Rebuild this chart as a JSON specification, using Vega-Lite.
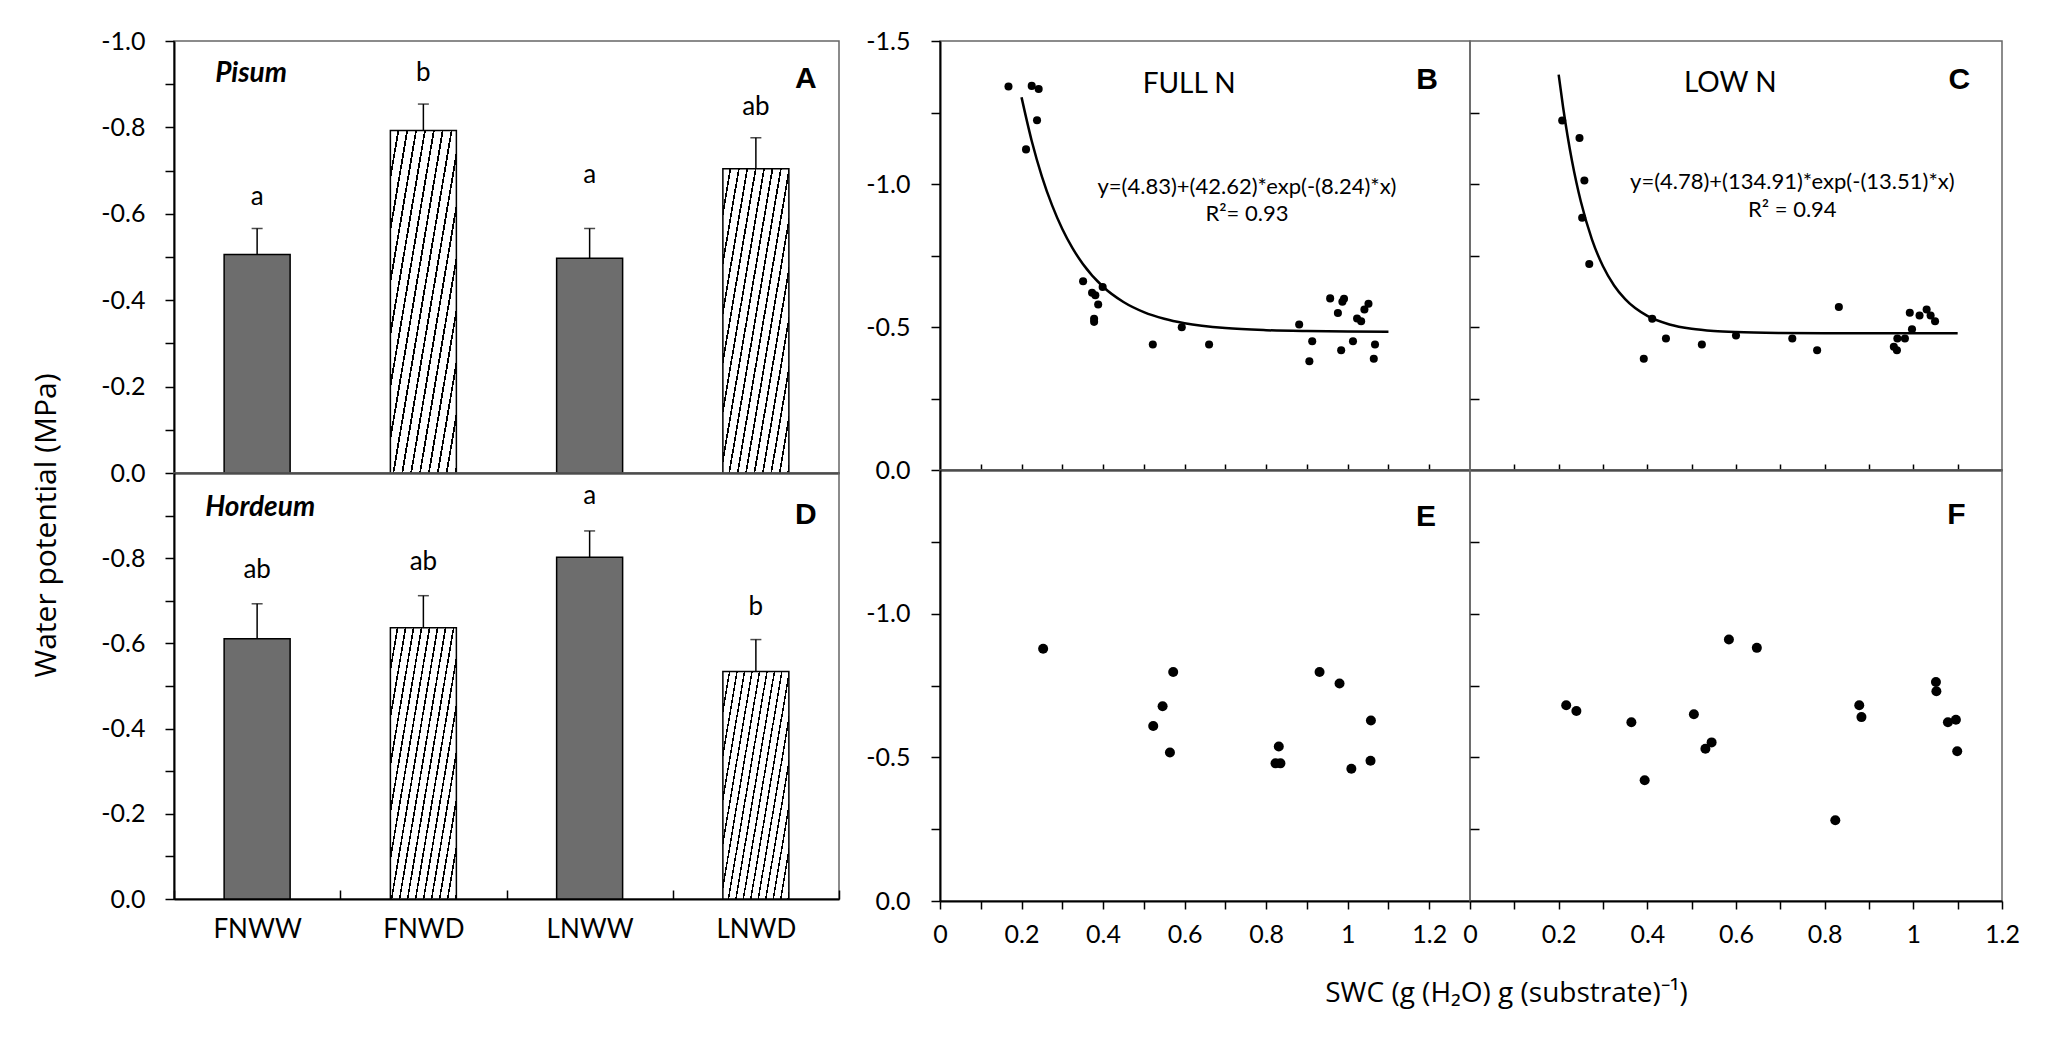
{
"$schema":"https://vega.github.io/schema/vega-lite/v6.json",
"padding":{"left":30,"top":28,"right":10,"bottom":10},
"background":"white",
"config":{
"view":{"stroke":"#666666","strokeWidth":1.5},
"axis":{"labelFont":"Lato","labelFontSize":25,"labelColor":"#000","titleFont":"Open Sans","titleFontSize":26,"titleFontWeight":"normal","titleColor":"#000","domainColor":"#000","tickColor":"#000","domainWidth":2,"tickWidth":1.5,"grid":false,"labelOverlap":false,"labelFlush":false,"labelBound":false}
},
"datasets":{
"pis":[
{"trt":"FNWW","h":0,"val":-0.506,"err":-0.566,"ly":-0.640,"lab":"a"},
{"trt":"FNWD","h":1,"val":-0.793,"err":-0.854,"ly":-0.925,"lab":"b"},
{"trt":"LNWW","h":0,"val":-0.497,"err":-0.566,"ly":-0.689,"lab":"a"},
{"trt":"LNWD","h":1,"val":-0.704,"err":-0.776,"ly":-0.848,"lab":"ab"}
],
"hor":[
{"trt":"FNWW","h":0,"val":-0.611,"err":-0.693,"ly":-0.772,"lab":"ab"},
{"trt":"FNWD","h":1,"val":-0.637,"err":-0.712,"ly":-0.791,"lab":"ab"},
{"trt":"LNWW","h":0,"val":-0.802,"err":-0.864,"ly":-0.945,"lab":"a"},
{"trt":"LNWD","h":1,"val":-0.534,"err":-0.609,"ly":-0.685,"lab":"b"}
],
"bann":[
{"p":"A","k":"N","trt":"FNWW","y":-0.923,"t":"Pisum"},
{"p":"A","k":"L","trt":"LNWD","y":-0.913,"t":"A"},
{"p":"D","k":"N","trt":"FNWW","y":-0.919,"t":"Hordeum"},
{"p":"D","k":"L","trt":"LNWD","y":-0.902,"t":"D"}
],
"scat":[
{"p":"B","x":0.168,"y":-1.341},{"p":"B","x":0.225,"y":-1.343},{"p":"B","x":0.242,"y":-1.332},{"p":"B","x":0.238,"y":-1.223},{"p":"B","x":0.211,"y":-1.121},
{"p":"B","x":0.351,"y":-0.660},{"p":"B","x":0.373,"y":-0.620},{"p":"B","x":0.381,"y":-0.611},{"p":"B","x":0.399,"y":-0.640},{"p":"B","x":0.388,"y":-0.579},
{"p":"B","x":0.378,"y":-0.529},{"p":"B","x":0.378,"y":-0.518},{"p":"B","x":0.522,"y":-0.439},{"p":"B","x":0.593,"y":-0.499},{"p":"B","x":0.660,"y":-0.439},
{"p":"B","x":0.881,"y":-0.509},{"p":"B","x":0.913,"y":-0.450},{"p":"B","x":0.906,"y":-0.380},{"p":"B","x":0.957,"y":-0.600},{"p":"B","x":0.976,"y":-0.549},
{"p":"B","x":0.991,"y":-0.599},{"p":"B","x":0.987,"y":-0.588},{"p":"B","x":0.984,"y":-0.419},{"p":"B","x":1.013,"y":-0.450},{"p":"B","x":1.023,"y":-0.530},
{"p":"B","x":1.033,"y":-0.520},{"p":"B","x":1.041,"y":-0.561},{"p":"B","x":1.051,"y":-0.581},{"p":"B","x":1.067,"y":-0.439},{"p":"B","x":1.064,"y":-0.389},
{"p":"C","x":0.208,"y":-1.222},{"p":"C","x":0.247,"y":-1.161},{"p":"C","x":0.258,"y":-1.012},{"p":"C","x":0.253,"y":-0.882},{"p":"C","x":0.269,"y":-0.720},
{"p":"C","x":0.392,"y":-0.389},{"p":"C","x":0.411,"y":-0.529},{"p":"C","x":0.442,"y":-0.460},{"p":"C","x":0.523,"y":-0.439},{"p":"C","x":0.600,"y":-0.470},
{"p":"C","x":0.727,"y":-0.460},{"p":"C","x":0.783,"y":-0.419},{"p":"C","x":0.832,"y":-0.570},{"p":"C","x":0.956,"y":-0.431},{"p":"C","x":0.963,"y":-0.419},
{"p":"C","x":0.964,"y":-0.460},{"p":"C","x":0.981,"y":-0.460},{"p":"C","x":0.997,"y":-0.492},{"p":"C","x":0.992,"y":-0.550},{"p":"C","x":1.014,"y":-0.540},
{"p":"C","x":1.030,"y":-0.561},{"p":"C","x":1.039,"y":-0.540},{"p":"C","x":1.049,"y":-0.520},
{"p":"E","x":0.253,"y":-0.878},{"p":"E","x":0.572,"y":-0.797},{"p":"E","x":0.546,"y":-0.678},{"p":"E","x":0.523,"y":-0.609},{"p":"E","x":0.564,"y":-0.517},
{"p":"E","x":0.831,"y":-0.538},{"p":"E","x":0.823,"y":-0.479},{"p":"E","x":0.835,"y":-0.479},{"p":"E","x":0.931,"y":-0.797},{"p":"E","x":0.980,"y":-0.757},
{"p":"E","x":1.057,"y":-0.628},{"p":"E","x":1.056,"y":-0.488},{"p":"E","x":1.009,"y":-0.460},
{"p":"F","x":0.217,"y":-0.681},{"p":"F","x":0.240,"y":-0.661},{"p":"F","x":0.364,"y":-0.622},{"p":"F","x":0.394,"y":-0.420},{"p":"F","x":0.505,"y":-0.650},
{"p":"F","x":0.531,"y":-0.530},{"p":"F","x":0.545,"y":-0.552},{"p":"F","x":0.584,"y":-0.910},{"p":"F","x":0.647,"y":-0.881},{"p":"F","x":0.824,"y":-0.281},
{"p":"F","x":0.878,"y":-0.681},{"p":"F","x":0.883,"y":-0.640},{"p":"F","x":1.051,"y":-0.762},{"p":"F","x":1.052,"y":-0.730},{"p":"F","x":1.078,"y":-0.622},
{"p":"F","x":1.096,"y":-0.631},{"p":"F","x":1.099,"y":-0.521}
],
"curve":[
{"p":"B","x":0.2,"y":-1.3031},{"p":"B","x":0.225,"y":-1.1505},{"p":"B","x":0.25,"y":-1.0262},{"p":"B","x":0.275,"y":-0.9251},{"p":"B","x":0.3,"y":-0.8428},
{"p":"B","x":0.325,"y":-0.7758},{"p":"B","x":0.35,"y":-0.7213},{"p":"B","x":0.4,"y":-0.6408},{"p":"B","x":0.45,"y":-0.5875},{"p":"B","x":0.5,"y":-0.5522},
{"p":"B","x":0.55,"y":-0.5289},{"p":"B","x":0.6,"y":-0.5134},{"p":"B","x":0.7,"y":-0.4963},{"p":"B","x":0.8,"y":-0.4888},{"p":"B","x":0.9,"y":-0.4856},
{"p":"B","x":1.0,"y":-0.4841},{"p":"B","x":1.1,"y":-0.4835},
{"p":"C","x":0.2,"y":-1.3827},{"p":"C","x":0.21,"y":-1.2684},{"p":"C","x":0.22,"y":-1.1686},{"p":"C","x":0.23,"y":-1.0813},{"p":"C","x":0.24,"y":-1.0051},
{"p":"C","x":0.25,"y":-0.9386},{"p":"C","x":0.275,"y":-0.8065},{"p":"C","x":0.3,"y":-0.7123},{"p":"C","x":0.325,"y":-0.6453},{"p":"C","x":0.35,"y":-0.5973},
{"p":"C","x":0.4,"y":-0.5387},{"p":"C","x":0.45,"y":-0.5089},{"p":"C","x":0.5,"y":-0.4937},{"p":"C","x":0.55,"y":-0.4860},{"p":"C","x":0.6,"y":-0.4821},
{"p":"C","x":0.7,"y":-0.4791},{"p":"C","x":0.8,"y":-0.4783},{"p":"C","x":0.9,"y":-0.4781},{"p":"C","x":1.0,"y":-0.4780},{"p":"C","x":1.1,"y":-0.4780}
],
"ann":[
{"p":"B","k":"L","x":1.195,"y":-1.364,"t":"B"},
{"p":"B","k":"H","x":0.611,"y":-1.346,"t":"FULL N"},
{"p":"B","k":"Q","x":0.753,"y":-0.991,"t":"y=(4.83)+(42.62)*exp(-(8.24)*x)"},
{"p":"B","k":"Q","x":0.753,"y":-0.894,"t":"R²= 0.93"},
{"p":"C","k":"L","x":1.104,"y":-1.364,"t":"C"},
{"p":"C","k":"H","x":0.587,"y":-1.349,"t":"LOW N"},
{"p":"C","k":"Q","x":0.727,"y":-1.008,"t":"y=(4.78)+(134.91)*exp(-(13.51)*x)"},
{"p":"C","k":"Q","x":0.727,"y":-0.909,"t":"R² = 0.94"},
{"p":"E","k":"L","x":1.192,"y":-1.337,"t":"E"},
{"p":"F","k":"L","x":1.097,"y":-1.343,"t":"F"}
]
},
"hconcat":[
{"vconcat":[
{"width":665,"height":432,
"data":{"name":"pis"},
"encoding":{"x":{"field":"trt","type":"nominal","sort":["FNWW","FNWD","LNWW","LNWD"],"title":null,"scale":{"paddingInner":0,"paddingOuter":0},"axis":{"labels":false,"ticks":false,"domainWidth":2}}},
"layer":[
{"transform":[{"filter":"datum.h==0"}],"mark":{"type":"bar","size":66,"fill":"#6d6d6d","stroke":"#000","strokeWidth":1.5},
"encoding":{"y":{"field":"val","type":"quantitative","title":null,"scale":{"domain":[-1,0],"reverse":true,"nice":false,"zero":false},
"axis":{"values":[-1,-0.9,-0.8,-0.7,-0.6,-0.5,-0.4,-0.3,-0.2,-0.1,0],"labelExpr":"abs(datum.value*5-round(datum.value*5))<0.01 ? (datum.value<0?'-':'')+format(abs(datum.value),'.1f') : ''","tickSize":9,"labelPadding":20}}}},
{"transform":[{"filter":"datum.trt=='FNWD'"}],"mark":{"type":"bar","size":66,"stroke":"#000","strokeWidth":1.5,"fill":{"gradient":"linear","x1":0,"y1":0,"x2":1.058,"y2":0.934,"stops":[{"offset":0,"color":"#fff"},{"offset":0.0571,"color":"#fff"},{"offset":0.0571,"color":"#000"},{"offset":0.0714,"color":"#000"},{"offset":0.0714,"color":"#fff"},{"offset":0.1286,"color":"#fff"},{"offset":0.1286,"color":"#000"},{"offset":0.1429,"color":"#000"},{"offset":0.1429,"color":"#fff"},{"offset":0.2,"color":"#fff"},{"offset":0.2,"color":"#000"},{"offset":0.2143,"color":"#000"},{"offset":0.2143,"color":"#fff"},{"offset":0.2714,"color":"#fff"},{"offset":0.2714,"color":"#000"},{"offset":0.2857,"color":"#000"},{"offset":0.2857,"color":"#fff"},{"offset":0.3429,"color":"#fff"},{"offset":0.3429,"color":"#000"},{"offset":0.3571,"color":"#000"},{"offset":0.3571,"color":"#fff"},{"offset":0.4143,"color":"#fff"},{"offset":0.4143,"color":"#000"},{"offset":0.4286,"color":"#000"},{"offset":0.4286,"color":"#fff"},{"offset":0.4857,"color":"#fff"},{"offset":0.4857,"color":"#000"},{"offset":0.5,"color":"#000"},{"offset":0.5,"color":"#fff"},{"offset":0.5571,"color":"#fff"},{"offset":0.5571,"color":"#000"},{"offset":0.5714,"color":"#000"},{"offset":0.5714,"color":"#fff"},{"offset":0.6286,"color":"#fff"},{"offset":0.6286,"color":"#000"},{"offset":0.6429,"color":"#000"},{"offset":0.6429,"color":"#fff"},{"offset":0.7,"color":"#fff"},{"offset":0.7,"color":"#000"},{"offset":0.7143,"color":"#000"},{"offset":0.7143,"color":"#fff"},{"offset":0.7714,"color":"#fff"},{"offset":0.7714,"color":"#000"},{"offset":0.7857,"color":"#000"},{"offset":0.7857,"color":"#fff"},{"offset":0.8429,"color":"#fff"},{"offset":0.8429,"color":"#000"},{"offset":0.8571,"color":"#000"},{"offset":0.8571,"color":"#fff"},{"offset":0.9143,"color":"#fff"},{"offset":0.9143,"color":"#000"},{"offset":0.9286,"color":"#000"},{"offset":0.9286,"color":"#fff"},{"offset":0.9857,"color":"#fff"},{"offset":0.9857,"color":"#000"},{"offset":1,"color":"#000"}]}},
"encoding":{"y":{"field":"val","type":"quantitative","title":null}}},
{"transform":[{"filter":"datum.trt=='LNWD'"}],"mark":{"type":"bar","size":66,"stroke":"#000","strokeWidth":1.5,"fill":{"gradient":"linear","x1":0,"y1":0,"x2":1.105,"y2":0.865,"stops":[{"offset":0,"color":"#fff"},{"offset":0.0571,"color":"#fff"},{"offset":0.0571,"color":"#000"},{"offset":0.0714,"color":"#000"},{"offset":0.0714,"color":"#fff"},{"offset":0.1286,"color":"#fff"},{"offset":0.1286,"color":"#000"},{"offset":0.1429,"color":"#000"},{"offset":0.1429,"color":"#fff"},{"offset":0.2,"color":"#fff"},{"offset":0.2,"color":"#000"},{"offset":0.2143,"color":"#000"},{"offset":0.2143,"color":"#fff"},{"offset":0.2714,"color":"#fff"},{"offset":0.2714,"color":"#000"},{"offset":0.2857,"color":"#000"},{"offset":0.2857,"color":"#fff"},{"offset":0.3429,"color":"#fff"},{"offset":0.3429,"color":"#000"},{"offset":0.3571,"color":"#000"},{"offset":0.3571,"color":"#fff"},{"offset":0.4143,"color":"#fff"},{"offset":0.4143,"color":"#000"},{"offset":0.4286,"color":"#000"},{"offset":0.4286,"color":"#fff"},{"offset":0.4857,"color":"#fff"},{"offset":0.4857,"color":"#000"},{"offset":0.5,"color":"#000"},{"offset":0.5,"color":"#fff"},{"offset":0.5571,"color":"#fff"},{"offset":0.5571,"color":"#000"},{"offset":0.5714,"color":"#000"},{"offset":0.5714,"color":"#fff"},{"offset":0.6286,"color":"#fff"},{"offset":0.6286,"color":"#000"},{"offset":0.6429,"color":"#000"},{"offset":0.6429,"color":"#fff"},{"offset":0.7,"color":"#fff"},{"offset":0.7,"color":"#000"},{"offset":0.7143,"color":"#000"},{"offset":0.7143,"color":"#fff"},{"offset":0.7714,"color":"#fff"},{"offset":0.7714,"color":"#000"},{"offset":0.7857,"color":"#000"},{"offset":0.7857,"color":"#fff"},{"offset":0.8429,"color":"#fff"},{"offset":0.8429,"color":"#000"},{"offset":0.8571,"color":"#000"},{"offset":0.8571,"color":"#fff"},{"offset":0.9143,"color":"#fff"},{"offset":0.9143,"color":"#000"},{"offset":0.9286,"color":"#000"},{"offset":0.9286,"color":"#fff"},{"offset":0.9857,"color":"#fff"},{"offset":0.9857,"color":"#000"},{"offset":1,"color":"#000"}]}},
"encoding":{"y":{"field":"val","type":"quantitative","title":null}}},
{"mark":{"type":"rule","strokeWidth":1.5,"color":"#000"},"encoding":{"y":{"field":"val","type":"quantitative","title":null},"y2":{"field":"err"}}},
{"mark":{"type":"tick","orient":"horizontal","size":11,"thickness":1.5,"color":"#000"},"encoding":{"y":{"field":"err","type":"quantitative","title":null}}},
{"mark":{"type":"text","font":"Lato","fontSize":26,"baseline":"middle","color":"#000"},"encoding":{"y":{"field":"ly","type":"quantitative","title":null},"text":{"field":"lab"}}},
{"data":{"name":"bann"},"transform":[{"filter":"datum.p=='A' && datum.k=='N'"}],"mark":{"type":"text","font":"Lato","fontSize":28,"fontStyle":"italic","fontWeight":"bold","align":"left","baseline":"middle","dx":-42,"color":"#000"},"encoding":{"y":{"field":"y","type":"quantitative","title":null},"text":{"field":"t"}}},
{"data":{"name":"bann"},"transform":[{"filter":"datum.p=='A' && datum.k=='L'"}],"mark":{"type":"text","font":"Liberation Sans","fontSize":30,"fontWeight":"bold","align":"center","baseline":"middle","dx":50,"color":"#000"},"encoding":{"y":{"field":"y","type":"quantitative","title":null},"text":{"field":"t"}}}
]},
{"width":665,"height":426,
"data":{"name":"hor"},
"encoding":{"x":{"field":"trt","type":"nominal","sort":["FNWW","FNWD","LNWW","LNWD"],"title":null,"scale":{"paddingInner":0,"paddingOuter":0},"axis":{"labelAngle":0,"labelFontSize":26,"labelPadding":26,"tickBand":"extent","tickSize":-9,"domainWidth":2}}},
"layer":[
{"transform":[{"filter":"datum.h==0"}],"mark":{"type":"bar","size":66,"fill":"#6d6d6d","stroke":"#000","strokeWidth":1.5},
"encoding":{"y":{"field":"val","type":"quantitative","scale":{"domain":[-1,0],"reverse":true,"nice":false,"zero":false},
"axis":{"title":"Water potential (MPa)","titleFontSize":30,"values":[-0.9,-0.8,-0.7,-0.6,-0.5,-0.4,-0.3,-0.2,-0.1,0],"labelExpr":"abs(datum.value*5-round(datum.value*5))<0.01 ? (datum.value<0?'-':'')+format(abs(datum.value),'.1f') : ''","tickSize":9,"labelPadding":20,"titleX":-128,"titleY":52,"titleAngle":270,"titleAlign":"center","titleBaseline":"middle"}}}},
{"transform":[{"filter":"datum.trt=='FNWD'"}],"mark":{"type":"bar","size":66,"stroke":"#000","strokeWidth":1.5,"fill":{"gradient":"linear","x1":0,"y1":0,"x2":1.142,"y2":0.797,"stops":[{"offset":0,"color":"#fff"},{"offset":0.0571,"color":"#fff"},{"offset":0.0571,"color":"#000"},{"offset":0.0714,"color":"#000"},{"offset":0.0714,"color":"#fff"},{"offset":0.1286,"color":"#fff"},{"offset":0.1286,"color":"#000"},{"offset":0.1429,"color":"#000"},{"offset":0.1429,"color":"#fff"},{"offset":0.2,"color":"#fff"},{"offset":0.2,"color":"#000"},{"offset":0.2143,"color":"#000"},{"offset":0.2143,"color":"#fff"},{"offset":0.2714,"color":"#fff"},{"offset":0.2714,"color":"#000"},{"offset":0.2857,"color":"#000"},{"offset":0.2857,"color":"#fff"},{"offset":0.3429,"color":"#fff"},{"offset":0.3429,"color":"#000"},{"offset":0.3571,"color":"#000"},{"offset":0.3571,"color":"#fff"},{"offset":0.4143,"color":"#fff"},{"offset":0.4143,"color":"#000"},{"offset":0.4286,"color":"#000"},{"offset":0.4286,"color":"#fff"},{"offset":0.4857,"color":"#fff"},{"offset":0.4857,"color":"#000"},{"offset":0.5,"color":"#000"},{"offset":0.5,"color":"#fff"},{"offset":0.5571,"color":"#fff"},{"offset":0.5571,"color":"#000"},{"offset":0.5714,"color":"#000"},{"offset":0.5714,"color":"#fff"},{"offset":0.6286,"color":"#fff"},{"offset":0.6286,"color":"#000"},{"offset":0.6429,"color":"#000"},{"offset":0.6429,"color":"#fff"},{"offset":0.7,"color":"#fff"},{"offset":0.7,"color":"#000"},{"offset":0.7143,"color":"#000"},{"offset":0.7143,"color":"#fff"},{"offset":0.7714,"color":"#fff"},{"offset":0.7714,"color":"#000"},{"offset":0.7857,"color":"#000"},{"offset":0.7857,"color":"#fff"},{"offset":0.8429,"color":"#fff"},{"offset":0.8429,"color":"#000"},{"offset":0.8571,"color":"#000"},{"offset":0.8571,"color":"#fff"},{"offset":0.9143,"color":"#fff"},{"offset":0.9143,"color":"#000"},{"offset":0.9286,"color":"#000"},{"offset":0.9286,"color":"#fff"},{"offset":0.9857,"color":"#fff"},{"offset":0.9857,"color":"#000"},{"offset":1,"color":"#000"}]}},
"encoding":{"y":{"field":"val","type":"quantitative"}}},
{"transform":[{"filter":"datum.trt=='LNWD'"}],"mark":{"type":"bar","size":66,"stroke":"#000","strokeWidth":1.5,"fill":{"gradient":"linear","x1":0,"y1":0,"x2":1.181,"y2":0.691,"stops":[{"offset":0,"color":"#fff"},{"offset":0.0571,"color":"#fff"},{"offset":0.0571,"color":"#000"},{"offset":0.0714,"color":"#000"},{"offset":0.0714,"color":"#fff"},{"offset":0.1286,"color":"#fff"},{"offset":0.1286,"color":"#000"},{"offset":0.1429,"color":"#000"},{"offset":0.1429,"color":"#fff"},{"offset":0.2,"color":"#fff"},{"offset":0.2,"color":"#000"},{"offset":0.2143,"color":"#000"},{"offset":0.2143,"color":"#fff"},{"offset":0.2714,"color":"#fff"},{"offset":0.2714,"color":"#000"},{"offset":0.2857,"color":"#000"},{"offset":0.2857,"color":"#fff"},{"offset":0.3429,"color":"#fff"},{"offset":0.3429,"color":"#000"},{"offset":0.3571,"color":"#000"},{"offset":0.3571,"color":"#fff"},{"offset":0.4143,"color":"#fff"},{"offset":0.4143,"color":"#000"},{"offset":0.4286,"color":"#000"},{"offset":0.4286,"color":"#fff"},{"offset":0.4857,"color":"#fff"},{"offset":0.4857,"color":"#000"},{"offset":0.5,"color":"#000"},{"offset":0.5,"color":"#fff"},{"offset":0.5571,"color":"#fff"},{"offset":0.5571,"color":"#000"},{"offset":0.5714,"color":"#000"},{"offset":0.5714,"color":"#fff"},{"offset":0.6286,"color":"#fff"},{"offset":0.6286,"color":"#000"},{"offset":0.6429,"color":"#000"},{"offset":0.6429,"color":"#fff"},{"offset":0.7,"color":"#fff"},{"offset":0.7,"color":"#000"},{"offset":0.7143,"color":"#000"},{"offset":0.7143,"color":"#fff"},{"offset":0.7714,"color":"#fff"},{"offset":0.7714,"color":"#000"},{"offset":0.7857,"color":"#000"},{"offset":0.7857,"color":"#fff"},{"offset":0.8429,"color":"#fff"},{"offset":0.8429,"color":"#000"},{"offset":0.8571,"color":"#000"},{"offset":0.8571,"color":"#fff"},{"offset":0.9143,"color":"#fff"},{"offset":0.9143,"color":"#000"},{"offset":0.9286,"color":"#000"},{"offset":0.9286,"color":"#fff"},{"offset":0.9857,"color":"#fff"},{"offset":0.9857,"color":"#000"},{"offset":1,"color":"#000"}]}},
"encoding":{"y":{"field":"val","type":"quantitative"}}},
{"mark":{"type":"rule","strokeWidth":1.5,"color":"#000"},"encoding":{"y":{"field":"val","type":"quantitative"},"y2":{"field":"err"}}},
{"mark":{"type":"tick","orient":"horizontal","size":11,"thickness":1.5,"color":"#000"},"encoding":{"y":{"field":"err","type":"quantitative"}}},
{"mark":{"type":"text","font":"Lato","fontSize":26,"baseline":"middle","color":"#000"},"encoding":{"y":{"field":"ly","type":"quantitative"},"text":{"field":"lab"}}},
{"data":{"name":"bann"},"transform":[{"filter":"datum.p=='D' && datum.k=='N'"}],"mark":{"type":"text","font":"Lato","fontSize":28,"fontStyle":"italic","fontWeight":"bold","align":"left","baseline":"middle","dx":-52,"color":"#000"},"encoding":{"y":{"field":"y","type":"quantitative"},"text":{"field":"t"}}},
{"data":{"name":"bann"},"transform":[{"filter":"datum.p=='D' && datum.k=='L'"}],"mark":{"type":"text","font":"Liberation Sans","fontSize":30,"fontWeight":"bold","align":"center","baseline":"middle","dx":50,"color":"#000"},"encoding":{"y":{"field":"y","type":"quantitative"},"text":{"field":"t"}}}
]}
],"spacing":0,"bounds":"flush"},
{"concat":[
{"width":530,"height":429,
"layer":[
{"data":{"name":"scat"},"transform":[{"filter":"datum.p=='B'"}],"mark":{"type":"circle","size":65,"color":"#000","opacity":1},
"encoding":{"x":{"field":"x","type":"quantitative","title":null,"scale":{"domain":[0,1.3],"nice":false,"zero":false},"axis":{"values":[0.1,0.2,0.3,0.4,0.5,0.6,0.7,0.8,0.9,1,1.1,1.2],"labels":false,"tickSize":-6}},
"y":{"field":"y","type":"quantitative","title":null,"scale":{"domain":[-1.5,0],"reverse":true,"nice":false,"zero":false},"axis":{"values":[-1.5,-1.25,-1,-0.75,-0.5,-0.25,0],"labelExpr":"abs(datum.value*2-round(datum.value*2))<0.01 ? (datum.value<0?'-':'')+format(abs(datum.value),'.1f') : ''","tickSize":9,"labelPadding":21}}}},
{"data":{"name":"curve"},"transform":[{"filter":"datum.p=='B'"}],"mark":{"type":"line","color":"#000","strokeWidth":2.5,"interpolate":"monotone"},"encoding":{"x":{"field":"x","type":"quantitative","title":null},"y":{"field":"y","type":"quantitative","title":null}}},
{"data":{"name":"ann"},"transform":[{"filter":"datum.p=='B' && datum.k=='L'"}],"mark":{"type":"text","font":"Liberation Sans","fontSize":30,"fontWeight":"bold","baseline":"middle","color":"#000"},"encoding":{"x":{"field":"x","type":"quantitative","title":null},"y":{"field":"y","type":"quantitative","title":null},"text":{"field":"t"}}},
{"data":{"name":"ann"},"transform":[{"filter":"datum.p=='B' && datum.k=='H'"}],"mark":{"type":"text","font":"Lato","fontSize":28,"baseline":"middle","color":"#000"},"encoding":{"x":{"field":"x","type":"quantitative","title":null},"y":{"field":"y","type":"quantitative","title":null},"text":{"field":"t"}}},
{"data":{"name":"ann"},"transform":[{"filter":"datum.p=='B' && datum.k=='Q'"}],"mark":{"type":"text","font":"Lato","fontSize":22,"baseline":"middle","color":"#000"},"encoding":{"x":{"field":"x","type":"quantitative","title":null},"y":{"field":"y","type":"quantitative","title":null},"text":{"field":"t"}}}
]},
{"width":532,"height":429,
"layer":[
{"data":{"name":"scat"},"transform":[{"filter":"datum.p=='C'"}],"mark":{"type":"circle","size":65,"color":"#000","opacity":1},
"encoding":{"x":{"field":"x","type":"quantitative","title":null,"scale":{"domain":[0,1.2],"nice":false,"zero":false},"axis":{"values":[0.1,0.2,0.3,0.4,0.5,0.6,0.7,0.8,0.9,1,1.1],"labels":false,"tickSize":-6}},
"y":{"field":"y","type":"quantitative","title":null,"scale":{"domain":[-1.5,0],"reverse":true,"nice":false,"zero":false},"axis":{"values":[-1.25,-1,-0.75,-0.5,-0.25],"labels":false,"domain":false,"tickSize":-9}}}},
{"data":{"name":"curve"},"transform":[{"filter":"datum.p=='C'"}],"mark":{"type":"line","color":"#000","strokeWidth":2.5,"interpolate":"monotone"},"encoding":{"x":{"field":"x","type":"quantitative","title":null},"y":{"field":"y","type":"quantitative","title":null}}},
{"data":{"name":"ann"},"transform":[{"filter":"datum.p=='C' && datum.k=='L'"}],"mark":{"type":"text","font":"Liberation Sans","fontSize":30,"fontWeight":"bold","baseline":"middle","color":"#000"},"encoding":{"x":{"field":"x","type":"quantitative","title":null},"y":{"field":"y","type":"quantitative","title":null},"text":{"field":"t"}}},
{"data":{"name":"ann"},"transform":[{"filter":"datum.p=='C' && datum.k=='H'"}],"mark":{"type":"text","font":"Lato","fontSize":28,"baseline":"middle","color":"#000"},"encoding":{"x":{"field":"x","type":"quantitative","title":null},"y":{"field":"y","type":"quantitative","title":null},"text":{"field":"t"}}},
{"data":{"name":"ann"},"transform":[{"filter":"datum.p=='C' && datum.k=='Q'"}],"mark":{"type":"text","font":"Lato","fontSize":22,"baseline":"middle","color":"#000"},"encoding":{"x":{"field":"x","type":"quantitative","title":null},"y":{"field":"y","type":"quantitative","title":null},"text":{"field":"t"}}}
]},
{"width":530,"height":431,
"layer":[
{"data":{"name":"scat"},"transform":[{"filter":"datum.p=='E'"}],"mark":{"type":"circle","size":100,"color":"#000","opacity":1},
"encoding":{"x":{"field":"x","type":"quantitative","scale":{"domain":[0,1.3],"nice":false,"zero":false},"axis":{"title":"SWC (g (H₂O) g (substrate)⁻¹)","values":[0,0.1,0.2,0.3,0.4,0.5,0.6,0.7,0.8,0.9,1,1.1,1.2],"labelExpr":"abs(datum.value*5-round(datum.value*5))<0.01 ? format(datum.value,'~g') : ''","tickSize":8,"labelPadding":13,"titleX":566,"titleY":100,"titleAlign":"center","titleBaseline":"alphabetic","titleFontSize":28}},
"y":{"field":"y","type":"quantitative","title":null,"scale":{"domain":[-1.5,0],"reverse":true,"nice":false,"zero":false},"axis":{"values":[-1.25,-1,-0.75,-0.5,-0.25,0],"labelExpr":"abs(datum.value*2-round(datum.value*2))<0.01 ? (datum.value<0?'-':'')+format(abs(datum.value),'.1f') : ''","tickSize":9,"labelPadding":21}}}},
{"data":{"name":"ann"},"transform":[{"filter":"datum.p=='E'"}],"mark":{"type":"text","font":"Liberation Sans","fontSize":30,"fontWeight":"bold","baseline":"middle","color":"#000"},"encoding":{"x":{"field":"x","type":"quantitative"},"y":{"field":"y","type":"quantitative","title":null},"text":{"field":"t"}}}
]},
{"width":532,"height":431,
"layer":[
{"data":{"name":"scat"},"transform":[{"filter":"datum.p=='F'"}],"mark":{"type":"circle","size":100,"color":"#000","opacity":1},
"encoding":{"x":{"field":"x","type":"quantitative","title":null,"scale":{"domain":[0,1.2],"nice":false,"zero":false},"axis":{"values":[0,0.1,0.2,0.3,0.4,0.5,0.6,0.7,0.8,0.9,1,1.1,1.2],"labelExpr":"abs(datum.value*5-round(datum.value*5))<0.01 ? format(datum.value,'~g') : ''","tickSize":8,"labelPadding":13}},
"y":{"field":"y","type":"quantitative","title":null,"scale":{"domain":[-1.5,0],"reverse":true,"nice":false,"zero":false},"axis":{"values":[-1.25,-1,-0.75,-0.5,-0.25],"labels":false,"domain":false,"tickSize":-9}}}},
{"data":{"name":"ann"},"transform":[{"filter":"datum.p=='F'"}],"mark":{"type":"text","font":"Liberation Sans","fontSize":30,"fontWeight":"bold","baseline":"middle","color":"#000"},"encoding":{"x":{"field":"x","type":"quantitative","title":null},"y":{"field":"y","type":"quantitative","title":null},"text":{"field":"t"}}}
]}
],"columns":2,"spacing":0,"bounds":"flush"}
],
"spacing":24
}
